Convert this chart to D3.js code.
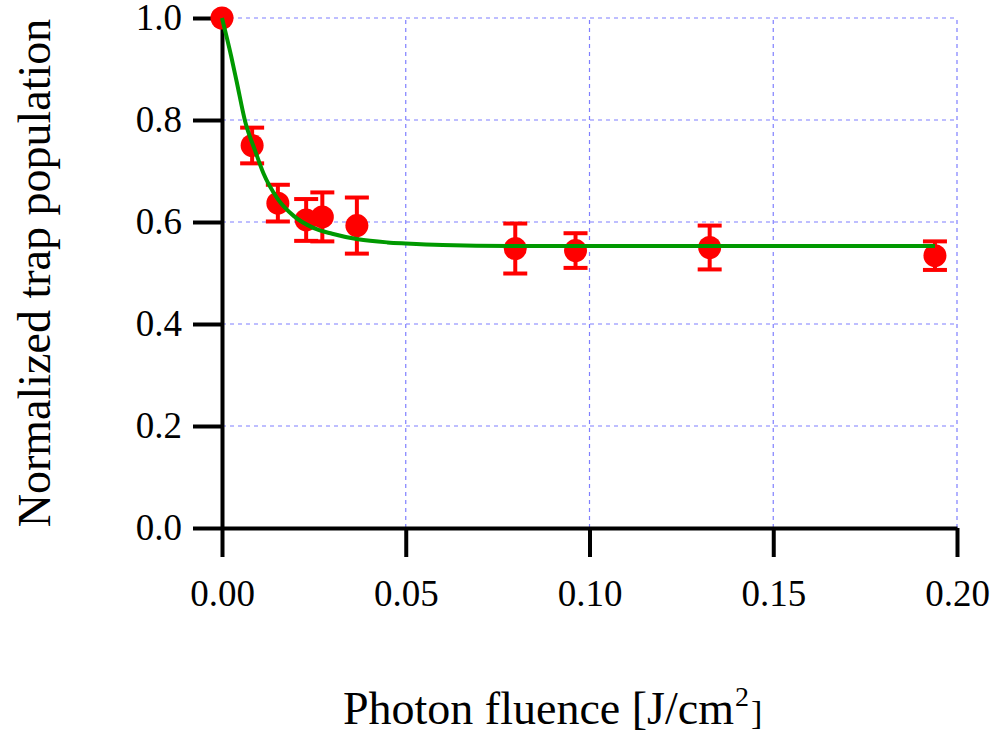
<!DOCTYPE html>
<html lang="en">
<head>
<meta charset="UTF-8">
<title>Normalized trap population vs photon fluence</title>
<script src="https://d3js.org/d3.v7.min.js"></script>
<style>
  body { margin: 0; background: #fff; }
  svg { display: block; font-family: "Liberation Serif", "Times New Roman", serif; }
  .tick text { font-family: "Liberation Serif", "Times New Roman", serif; }
</style>
</head>
<body>
<div id="chart"></div>
<script>
// measured points
const fluence = [0, 0.0082, 0.0152, 0.0229, 0.0273, 0.0367, 0.0798, 0.0962, 0.1327, 0.1940];
const population = [1.0, 0.750, 0.637, 0.604, 0.610, 0.593, 0.548, 0.544, 0.550, 0.534];
const popError = [0, 0.035, 0.036, 0.041, 0.048, 0.055, 0.049, 0.034, 0.043, 0.028];

// fit curve
const fitX = [0, 0.0025, 0.004, 0.0063, 0.009, 0.0113, 0.015, 0.0195, 0.025, 0.03, 0.037, 0.045, 0.05, 0.06, 0.08, 0.12, 0.16, 0.194];
const fitY = [1.0, 0.925, 0.875, 0.797, 0.74, 0.695, 0.647, 0.612, 0.588, 0.577, 0.566, 0.560, 0.558, 0.555, 0.553, 0.553, 0.553, 0.553];

const xTicks = [0, 0.05, 0.10, 0.15, 0.20];
const yTicks = [0, 0.2, 0.4, 0.6, 0.8, 1.0];

const width = 996, height = 748;
const margin = { top: 18, right: 38, bottom: 220, left: 222 };

const svg = d3.select("#chart").append("svg")
    .attr("width", width)
    .attr("height", height);

svg.append("rect").attr("width", width).attr("height", height).attr("fill", "#fff");

const x = d3.scaleLinear().domain([0, 0.2]).range([margin.left, 957]);
const y = d3.scaleLinear().domain([0, 1]).range([528, margin.top]);

// grid
const grid = svg.append("g")
    .attr("stroke", "#7f7fff")
    .attr("stroke-width", 1.2)
    .attr("stroke-dasharray", "4,4");
grid.selectAll(".gx").data(xTicks.slice(1)).join("line")
    .attr("x1", d => x(d)).attr("x2", d => x(d))
    .attr("y1", y(0)).attr("y2", y(1));
grid.selectAll(".gy").data(yTicks.slice(1)).join("line")
    .attr("x1", x(0)).attr("x2", x(0.2))
    .attr("y1", d => y(d)).attr("y2", d => y(d));

// axes
const xAxis = svg.append("g")
    .attr("transform", `translate(0,${y(0)})`)
    .call(d3.axisBottom(x).tickValues(xTicks).tickFormat(d3.format(".2f"))
        .tickSize(29).tickSizeOuter(0).tickPadding(23));
const yAxis = svg.append("g")
    .attr("transform", `translate(${x(0)},0)`)
    .call(d3.axisLeft(y).tickValues(yTicks).tickFormat(d3.format(".1f"))
        .tickSize(29).tickSizeOuter(0).tickPadding(11));

[xAxis, yAxis].forEach(a => {
    a.select(".domain").attr("stroke", "#000").attr("stroke-width", 4);
    a.selectAll(".tick line").attr("stroke", "#000").attr("stroke-width", 4);
    a.selectAll(".tick text").attr("fill", "#000").style("font-size", "37px");
});

// error bars
const pts = fluence.map((f, i) => ({ x: f, y: population[i], e: popError[i] }));
const eb = svg.append("g").attr("stroke", "#ff0000").attr("stroke-width", 4);
pts.filter(d => d.e > 0).forEach(d => {
    eb.append("line").attr("x1", x(d.x)).attr("x2", x(d.x))
        .attr("y1", y(d.y - d.e)).attr("y2", y(d.y + d.e));
    eb.append("line").attr("x1", x(d.x) - 12).attr("x2", x(d.x) + 12)
        .attr("y1", y(d.y - d.e)).attr("y2", y(d.y - d.e));
    eb.append("line").attr("x1", x(d.x) - 12).attr("x2", x(d.x) + 12)
        .attr("y1", y(d.y + d.e)).attr("y2", y(d.y + d.e));
});

svg.append("g").selectAll("circle").data(pts).join("circle")
    .attr("cx", d => x(d.x))
    .attr("cy", d => y(d.y))
    .attr("r", 11.5)
    .attr("fill", "#ff0000");

// fit line
const line = d3.line()
    .x((d, i) => x(fitX[i]))
    .y(d => y(d))
    .curve(d3.curveMonotoneX);
svg.append("path")
    .datum(fitY)
    .attr("fill", "none")
    .attr("stroke", "#009900")
    .attr("stroke-width", 4)
    .attr("d", line);

// axis titles
const xt = svg.append("text")
    .attr("x", 343).attr("y", 724)
    .style("font-size", "46px")
    .attr("fill", "#000");
xt.append("tspan").text("Photon fluence [J/cm");
xt.append("tspan").attr("dy", -18).attr("dx", 1).style("font-size", "28px").text("2");
xt.append("tspan").attr("dy", 18).attr("dx", 2).style("font-size", "34px").text("]");

svg.append("text")
    .attr("transform", `translate(50,${(y(0) + y(1)) / 2}) rotate(-90)`)
    .attr("text-anchor", "middle")
    .style("font-size", "46px")
    .attr("fill", "#000")
    .text("Normalized trap population");
</script>
</body>
</html>
